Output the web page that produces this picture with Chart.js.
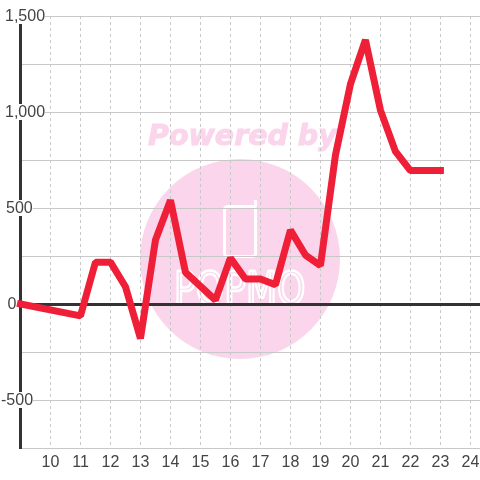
<!DOCTYPE html>
<html>
<head>
<meta charset="utf-8">
<style>
  html, body { margin: 0; padding: 0; background: #fff; }
  #wrap { width: 480px; height: 480px; }
</style>
<script src="https://cdn.jsdelivr.net/npm/chart.js@4"></script>
</head>
<body>
<div id="wrap"><canvas id="chart" width="480" height="480"></canvas></div>
<script>
const hours = [9, 11, 11.5, 12, 12.5, 13, 13.5, 14, 14.5, 15.5, 16, 16.5, 17, 17.5, 18, 18.5, 19, 19.5, 20, 20.5, 21, 21.5, 22, 23];
const values = [0, -62, 218, 218, 90, -180, 333, 541, 165, 20, 240, 130, 130, 100, 385, 255, 200, 775, 1145, 1375, 1010, 795, 695, 695];
const xTicks = [10, 11, 12, 13, 14, 15, 16, 17, 18, 19, 20, 21, 22, 23, 24];
const yGrid = [-750, -500, -250, 0, 250, 500, 750, 1000, 1250, 1500];
const yLabels = ['1,500', '1,000', '500', '0', '-500'];
const yLabelValues = [1500, 1000, 500, 0, -500];
const yLabelLeft = [5, 5, 6, 7.5, 1];

// watermark sits under the grid
const watermark = {
    id: 'watermark',
    beforeDraw(chart) {
        const c = chart.ctx;
        c.save();
        c.fillStyle = '#fbd5ec';
        c.strokeStyle = '#fbd5ec';
        c.beginPath();
        c.arc(240, 259, 100, 0, Math.PI * 2);
        c.fill();

        c.font = 'italic bold 28.5px "DejaVu Sans"';
        c.textAlign = 'left';
        c.textBaseline = 'alphabetic';
        c.lineWidth = 1;
        c.fillText('Powered by', 148, 144.5);
        c.strokeText('Powered by', 148, 144.5);

        // phone
        c.strokeStyle = '#fff';
        c.lineWidth = 3;
        c.beginPath();
        c.roundRect(224.5, 206.5, 31, 50, 3);
        c.moveTo(255.5, 206.5);
        c.lineTo(255.5, 200);
        c.stroke();

        c.save();
        c.translate(174, 304);
        c.scale(0.82, 1);
        c.lineWidth = 2.5;
        c.font = '44px "DejaVu Sans"';
        c.strokeText('POPMO', 0, 0);
        c.restore();
        c.restore();
    }
};

// y labels hang over the axis line with a white box behind them
const yLabelBoxes = {
    id: 'yLabelBoxes',
    beforeDatasetsDraw(chart) {
        const c = chart.ctx;
        const y = chart.scales.y;
        c.save();
        c.font = '16px "Liberation Sans"';
        c.textAlign = 'left';
        c.textBaseline = 'middle';
        yLabels.forEach((label, i) => {
            const py = y.getPixelForValue(yLabelValues[i]);
            const w = c.measureText(label).width;
            if (yLabelValues[i] !== 0) {
                c.fillStyle = '#fff';
                c.fillRect(yLabelLeft[i], py - 8, w, 16);
            }
            c.fillStyle = '#444';
            c.fillText(label, yLabelLeft[i], py + 1);
        });
        c.restore();
    }
};

new Chart(document.getElementById('chart').getContext('2d'), {
    type: 'line',
    data: {
        labels: hours,
        datasets: [{
            data: hours.map((h, i) => ({ x: h, y: values[i] })),
            borderColor: '#ef1f37',
            borderWidth: 7,
            borderJoinStyle: 'bevel',
            borderCapStyle: 'square',
            pointRadius: 0,
            tension: 0,
            fill: false,
            clip: false
        }]
    },
    options: {
        responsive: false,
        animation: false,
        layout: { padding: { top: 16 } },
        plugins: { legend: { display: false }, tooltip: { enabled: false } },
        scales: {
            x: {
                type: 'linear',
                min: 9,
                max: 24.32,
                afterBuildTicks: scale => { scale.ticks = xTicks.map(v => ({ value: v })); },
                grid: { color: '#c8c8c8', lineWidth: 1, drawTicks: false },
                border: { display: false, dash: [3, 3] },
                afterFit: scale => { scale.height = 32; scale.paddingRight = 0; },
                ticks: {
                    color: '#444',
                    font: { family: '"Liberation Sans"', size: 16 },
                    padding: 5,
                    maxRotation: 0,
                    autoSkip: false,
                    callback: v => String(v)
                }
            },
            y: {
                min: -750,
                max: 1500,
                afterBuildTicks: scale => { scale.ticks = yGrid.map(v => ({ value: v })); },
                afterFit: scale => { scale.width = 20.5; scale.paddingTop = 0; },
                grid: {
                    color: ctx => ctx.tick.value === 0 ? '#333' : '#c8c8c8',
                    lineWidth: ctx => ctx.tick.value === 0 ? 3 : 1,
                    drawTicks: false
                },
                border: { display: true, color: '#333', width: 3 },
                ticks: { display: false }
            }
        }
    },
    plugins: [watermark, yLabelBoxes]
});
</script>
</body>
</html>
